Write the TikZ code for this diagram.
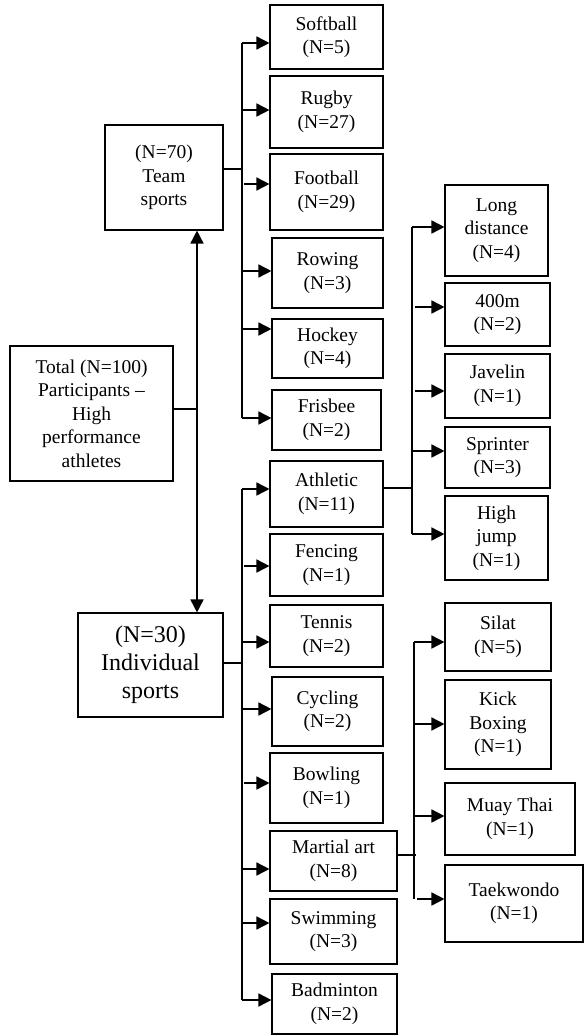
\documentclass[tikz,border=0pt]{standalone}
\usepackage{fontspec}
\setmainfont{Liberation Serif}
\usetikzlibrary{arrows.meta}
\tikzset{
  box/.style={draw, line width=1.1pt, inner sep=0pt, align=center, font=\fontsize{19.5}{23.5}\selectfont},
  bigbox/.style={box, font=\fontsize{24}{28}\selectfont},
  ln/.style={line width=1.3pt},
  arr/.style={line width=1.6pt, -{Triangle[length=13pt,width=13pt]}},
  darr/.style={line width=1.6pt, {Triangle[length=13pt,width=13pt]}-{Triangle[length=13pt,width=13pt]}}
}
\newcommand{\bx}[7][box]{\node[#1, minimum width={(#5-#3)*1pt}, minimum height={(#6-#4)*1pt}] (#2) at ({(#3+#5)/2},{(#4+#6)/2}) {#7};}
\begin{document}
\begin{tikzpicture}[x=1pt,y=-1pt]
\useasboundingbox (0,0) rectangle (584,1036);
% left boxes
\bx{team}{105}{125}{223}{230}{(N=70)\\Team\\sports}
\bx{total}{10}{346}{173}{481}{Total (N=100)\\Participants --\\High\\performance\\athletes}
\bx[bigbox]{indiv}{78}{613}{223}{717}{(N=30)\\Individual\\sports}
% team sports
\bx{softball}{270}{5}{383}{69}{Softball\\(N=5)}
\bx{rugby}{270}{76}{383}{148}{Rugby\\(N=27)}
\bx{football}{270}{154}{383}{230}{Football\\(N=29)}
\bx{rowing}{272}{238}{383}{308}{Rowing\\(N=3)}
\bx{hockey}{272}{319}{383}{378}{Hockey\\(N=4)}
\bx{frisbee}{272}{390}{381}{450}{Frisbee\\(N=2)}
% individual sports
\bx{athletic}{270}{461}{383}{527}{Athletic\\(N=11)}
\bx{fencing}{270}{534}{383}{596}{Fencing\\(N=1)}
\bx{tennis}{270}{605}{383}{667}{Tennis\\(N=2)}
\bx{cycling}{272}{677}{383}{746}{Cycling\\(N=2)}
\bx{bowling}{270}{753}{383}{823}{Bowling\\(N=1)}
\bx{martial}{270}{831}{397}{891}{Martial art\\(N=8)}
\bx{swimming}{270}{899}{397}{964}{Swimming\\(N=3)}
\bx{badminton}{272}{974}{397}{1034}{Badminton\\(N=2)}
% athletic
\bx{longd}{445}{185}{548}{276}{Long\\distance\\(N=4)}
\bx{mfour}{445}{283}{550}{346}{400m\\(N=2)}
\bx{javelin}{445}{354}{550}{418}{Javelin\\(N=1)}
\bx{sprinter}{445}{427}{550}{488}{Sprinter\\(N=3)}
\bx{highjump}{445}{496}{548}{580}{High\\jump\\(N=1)}
% martial
\bx{silat}{445}{603}{551}{671}{Silat\\(N=5)}
\bx{kick}{445}{680}{551}{769}{Kick\\Boxing\\(N=1)}
\bx{muay}{445}{783}{575}{855}{Muay Thai\\(N=1)}
\bx{taek}{445}{865}{583}{942}{Taekwondo\\(N=1)}

% main trunk
\draw[darr] (team.south -| 197,0) -- (indiv.north -| 197,0);
\coordinate (tj) at (197,409);
\draw[ln] (total.east |- tj) -- (tj);

% team bus
\coordinate (tb) at (242,169);
\draw[ln] (team.east |- tb) -- (tb);
\draw[ln] (242,43) -- (242,418);
\draw[arr] (242,43) -- (softball.west |- 0,43);
\draw[arr] (242,110) -- (rugby.west |- 0,110);
\draw[arr] (244,184) -- (football.west |- 0,184);
\draw[arr] (242,271) -- (rowing.west |- 0,271);
\draw[arr] (242,329) -- (hockey.west |- 0,329);
\draw[arr] (242,418) -- (frisbee.west |- 0,418);

% individual bus
\coordinate (ib) at (242,663);
\draw[ln] (indiv.east |- ib) -- (ib);
\draw[ln] (242,489) -- (242,1000);
\draw[arr] (242,489) -- (athletic.west |- 0,489);
\draw[arr] (244,566) -- (fencing.west |- 0,566);
\draw[arr] (242,642) -- (tennis.west |- 0,642);
\draw[arr] (242,709) -- (cycling.west |- 0,709);
\draw[arr] (244,783) -- (bowling.west |- 0,783);
\draw[arr] (242,869) -- (martial.west |- 0,869);
\draw[arr] (242,923) -- (swimming.west |- 0,923);
\draw[arr] (242,1000) -- (badminton.west |- 0,1000);

% athletic bus
\coordinate (ab) at (412,488);
\draw[ln] (athletic.east |- ab) -- (ab);
\draw[ln] (412,227) -- (412,534);
\draw[arr] (412,227) -- (longd.west |- 0,227);
\draw[arr] (415,307) -- (mfour.west |- 0,307);
\draw[arr] (415,391) -- (javelin.west |- 0,391);
\draw[arr] (412,451) -- (sprinter.west |- 0,451);
\draw[arr] (412,534) -- (highjump.west |- 0,534);

% martial bus
\coordinate (mb) at (416,855);
\draw[ln] (martial.east |- mb) -- (mb);
\draw[ln] (414,642) -- (414,899);
\draw[arr] (414,642) -- (silat.west |- 0,642);
\draw[arr] (414,724) -- (kick.west |- 0,724);
\draw[arr] (414,816) -- (muay.west |- 0,816);
\draw[arr] (417,899) -- (taek.west |- 0,899);
\end{tikzpicture}
\end{document}
